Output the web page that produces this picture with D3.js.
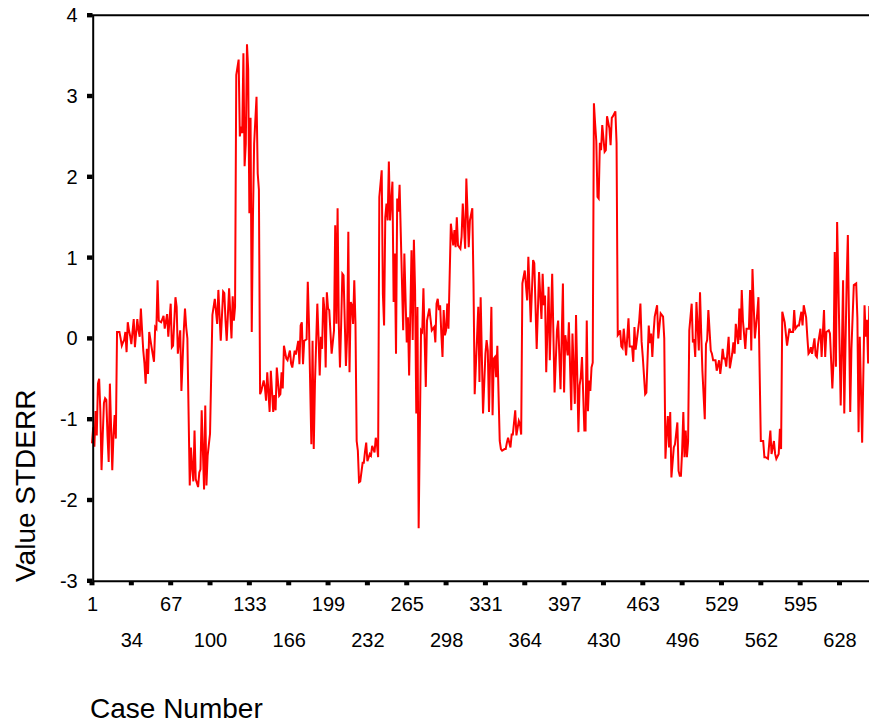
<!DOCTYPE html>
<html>
<head>
<meta charset="utf-8">
<script src="https://cdn.jsdelivr.net/npm/d3@7"></script>
<style>
  body { margin: 0; background: #fff; }
  text { font-family: "Liberation Sans", Arial, sans-serif; fill: #000; }
</style>
</head>
<body>
<script>
// tick labels
var yTicks = [-3, -2, -1, 0, 1, 2, 3, 4];
var xTicks = [1, 34, 67, 100, 133, 166, 199, 232, 265, 298, 331, 364, 397, 430, 463, 496, 529, 562, 595, 628];

// [case number, STDERR value]
var obs = [
  [1,-1.3],[2,-1.1],[3,-1.34],[4,-0.9],[5,-1.2],[6,-0.56],[7,-0.5],[8,-0.9],[9,-1.63],[10,-1.2],
  [11,-0.8],[12,-0.74],[13,-0.76],[14,-1.2],[15,-1.53],[16,-0.56],[17,-1.1],[18,-1.63],[19,-1.2],[20,-0.95],
  [21,-1.24],[22,0.08],[24,0.08],[25,0.0],[26,-0.09],[27,-0.05],[28,-0.02],[29,0.08],[30,-0.17],[31,0.2],
  [32,0.1],[33,0.03],[34,-0.07],[36,0.24],[37,-0.11],[39,0.24],[40,0.1],[41,0.02],[42,0.37],[43,0.1],
  [44,-0.15],[45,-0.31],[46,-0.56],[47,-0.13],[48,-0.44],[49,0.08],[51,-0.11],[52,-0.2],[53,-0.29],[54,0.14],
  [55,0.12],[56,0.72],[57,0.22],[59,0.2],[61,0.28],[62,0.12],[64,0.3],[65,0.02],[67,0.43],[68,-0.11],
  [69,-0.09],[71,0.51],[72,0.39],[73,-0.19],[75,0.1],[76,-0.65],[78,0.1],[79,0.37],[80,0.14],[81,0.0],
  [83,-1.82],[84,-1.35],[85,-1.6],[86,-1.77],[87,-1.14],[88,-1.74],[90,-1.84],[91,-1.66],[92,-1.62],[93,-0.89],
  [95,-1.87],[96,-0.83],[97,-1.82],[98,-1.45],[100,-1.18],[102,0.29],[104,0.49],[106,0.18],[107,0.6],[109,-0.03],
  [111,0.58],[112,0.56],[113,0.22],[114,-0.03],[116,0.62],[118,0.0],[119,0.52],[120,0.22],[121,0.39],[122,3.26],
  [124,3.45],[125,2.5],[126,2.62],[127,2.54],[128,3.53],[129,2.13],[130,2.41],[131,3.64],[132,3.33],[133,1.55],
  [134,2.73],[135,0.08],[136,1.5],[137,2.41],[139,2.99],[140,2.04],[141,1.84],[142,-0.69],[143,-0.65],[145,-0.52],
  [146,-0.6],[147,-0.77],[148,-0.42],[150,-0.91],[151,-0.4],[153,-0.91],[154,-0.7],[155,-0.89],[156,-0.36],[158,-0.71],
  [159,-0.69],[160,-0.42],[161,-0.62],[162,-0.09],[164,-0.25],[165,-0.27],[167,-0.15],[168,-0.31],[169,-0.36],[171,-0.15],
  [172,-0.2],[174,-0.03],[175,-0.32],[176,0.16],[177,0.2],[178,-0.32],[179,-0.03],[181,-0.01],[182,0.7],[183,0.18],
  [185,-1.31],[186,-0.03],[187,-1.37],[188,-0.56],[190,0.43],[191,0.02],[192,-0.46],[193,0.02],[194,-0.13],[195,0.51],
  [196,0.35],[197,-0.36],[198,0.57],[199,0.37],[200,0.35],[202,-0.19],[204,0.1],[205,1.4],[206,0.18],[207,1.61],
  [208,0.18],[209,-0.36],[210,0.18],[211,0.8],[212,0.78],[214,-0.34],[215,0.03],[216,1.32],[217,-0.42],[218,0.45],
  [219,0.41],[220,0.18],[221,0.72],[222,0.18],[223,-1.27],[224,-1.39],[225,-1.78],[226,-1.77],[228,-1.54],[229,-1.54],
  [230,-1.4],[231,-1.29],[232,-1.52],[234,-1.43],[235,-1.45],[236,-1.33],[238,-1.41],[239,-1.23],[240,-1.31],[241,-1.47],
  [242,1.75],[244,2.08],[245,0.55],[246,0.16],[247,1.5],[248,1.67],[249,1.46],[250,2.19],[251,1.46],[253,1.94],
  [254,0.45],[255,1.05],[256,-0.19],[257,1.73],[258,1.57],[259,1.9],[260,1.3],[262,0.1],[263,1.05],[265,-0.05],
  [266,0.26],[267,-0.46],[269,1.09],[270,-0.02],[271,1.22],[272,0.6],[273,-0.93],[274,0.39],[275,-2.35],[277,0.1],
  [278,0.08],[279,0.62],[281,-0.6],[282,0.22],[284,0.37],[286,0.1],[288,0.14],[289,-0.05],[290,0.43],[291,0.49],
  [292,0.35],[293,0.41],[294,0.06],[295,-0.23],[296,0.35],[297,0.04],[298,0.1],[299,0.43],[300,0.12],[302,1.42],
  [304,1.15],[305,1.34],[306,1.13],[307,1.5],[308,1.15],[310,1.11],[311,1.26],[312,1.67],[314,1.11],[315,1.98],
  [317,1.13],[318,1.46],[320,1.61],[321,0.68],[322,-0.69],[324,0.02],[325,0.39],[326,-0.54],[327,0.51],[329,-0.93],
  [331,-0.19],[332,-0.02],[333,-0.15],[334,-0.91],[336,0.39],[337,-0.95],[338,-0.25],[339,-0.23],[340,-0.48],[341,-0.09],
  [343,-1.27],[344,-1.37],[345,-1.39],[347,-1.37],[348,-1.37],[349,-1.29],[350,-1.23],[352,-1.35],[353,-1.19],[354,-1.19],
  [356,-0.89],[357,-1.2],[359,-1.02],[360,-1.06],[361,-1.19],[362,0.68],[364,0.84],[366,0.47],[367,1.01],[369,0.2],
  [371,0.97],[372,0.93],[373,0.41],[374,-0.13],[376,0.82],[378,0.24],[379,0.8],[380,0.41],[381,0.53],[382,-0.42],
  [384,0.64],[385,-0.27],[387,0.8],[389,-0.67],[391,0.1],[392,0.22],[394,-0.63],[396,0.68],[397,-0.67],[398,0.04],
  [400,-0.21],[401,0.2],[403,-0.89],[404,0.06],[406,-0.81],[407,0.29],[409,-1.16],[410,-0.58],[411,-0.48],[412,-0.23],
  [414,-1.14],[415,-1.14],[416,0.22],[417,-0.9],[418,-0.52],[419,-0.65],[420,-0.36],[421,-0.3],[422,2.91],[423,2.66],
  [424,2.44],[425,1.75],[426,1.73],[427,2.42],[428,2.33],[429,2.64],[431,2.31],[432,2.33],[433,2.75],[435,2.6],
  [436,2.39],[437,2.73],[438,2.75],[440,2.81],[441,2.42],[442,0.04],[443,0.06],[444,0.1],[445,-0.1],[446,-0.12],
  [447,0.12],[449,-0.21],[451,0.25],[452,-0.1],[454,-0.1],[455,-0.29],[456,0.14],[457,-0.14],[458,-0.02],[460,0.22],
  [461,0.43],[462,-0.04],[463,-0.23],[465,-0.69],[466,-0.67],[468,0.16],[469,-0.06],[470,0.06],[471,-0.23],[472,0.06],
  [473,0.27],[475,0.41],[476,0.0],[478,0.31],[480,0.27],[481,0.0],[482,-1.49],[483,-1.18],[484,-0.96],[485,-1.35],
  [486,-0.91],[487,-1.72],[489,-1.35],[490,-1.31],[492,-1.04],[493,-1.64],[494,-1.7],[495,-1.7],[496,-1.39],[497,-0.91],
  [498,-1.47],[499,-1.14],[500,-1.47],[501,-1.28],[502,0.1],[504,0.43],[505,-0.05],[506,-0.01],[507,-0.23],[508,0.45],
  [510,-0.15],[511,0.57],[512,0.06],[513,-0.4],[515,-1.0],[516,-0.07],[517,-0.02],[518,0.35],[520,-0.15],[521,-0.19],
  [522,-0.27],[524,-0.27],[525,-0.4],[527,-0.27],[528,-0.44],[529,-0.31],[530,-0.13],[531,-0.25],[532,-0.25],[533,-0.35],
  [535,0.02],[536,-0.37],[538,-0.19],[539,-0.05],[540,-0.19],[541,0.18],[543,-0.07],[544,0.37],[545,-0.02],[546,0.6],
  [547,0.22],[549,-0.13],[550,0.12],[552,0.12],[553,0.6],[554,-0.15],[555,0.86],[557,0.0],[559,0.31],[560,0.51],
  [561,-0.4],[562,-1.27],[564,-1.27],[565,-1.47],[566,-1.47],[568,-1.49],[569,-1.31],[570,-1.14],[571,-1.43],[573,-1.27],
  [574,-1.43],[575,-1.49],[577,-1.43],[578,-1.12],[579,-1.37],[580,0.33],[582,0.2],[584,-0.09],[586,0.12],[587,0.08],
  [589,0.08],[590,0.35],[591,0.12],[593,0.16],[594,0.16],[596,0.33],[597,0.16],[598,0.41],[600,0.26],[601,0.02],
  [602,-0.19],[603,-0.17],[604,-0.11],[605,-0.19],[607,0.0],[608,-0.21],[609,-0.23],[610,-0.07],[612,0.12],[613,-0.23],
  [615,0.35],[616,-0.23],[617,0.08],[619,0.1],[620,0.06],[622,-0.62],[623,-0.27],[624,1.07],[625,-0.35],[626,1.44],
  [627,0.72],[629,-0.83],[630,-0.13],[631,0.72],[632,-0.93],[634,0.7],[635,1.28],[637,-0.91],[638,-0.13],[640,0.66],
  [642,0.68],[643,0.25],[644,-1.16],[645,0.02],[647,-1.29],[649,0.41],[650,0.02],[651,0.23],[652,-0.31],[653,0.4],
  [654,-0.3]
];

var W = 869, H = 723;
var svg = d3.select("body").append("svg").attr("width", W).attr("height", H);

var x = d3.scaleLinear().domain([1, 654]).range([92, 870.5]);
var y = d3.scaleLinear().domain([-3, 4]).range([580.8, 15.2]);

// the series
svg.append("path")
  .datum(obs)
  .attr("fill", "none")
  .attr("stroke", "#ff0000")
  .attr("stroke-width", 2)
  .attr("d", d3.line().x(d => x(d[0])).y(d => y(d[1])));

// frame top line
svg.append("line")
  .attr("x1", 92).attr("x2", W).attr("y1", y(4)).attr("y2", y(4))
  .attr("stroke", "#000").attr("stroke-width", 2);

// left axis (plain hyphen minus, as in the original)
var gy = svg.append("g")
  .attr("transform", "translate(92.7,0)")
  .call(d3.axisLeft(y).tickValues(yTicks).tickSize(0).tickPadding(15).tickFormat(d => String(d)));
gy.select(".domain").attr("stroke", "#000").attr("stroke-width", 2);
gy.selectAll("text").style("font-size", "20px").style("font-family", "Liberation Sans, Arial, sans-serif");
svg.selectAll(".ytick").data(yTicks).join("rect")
  .attr("class", "ytick")
  .attr("x", 87).attr("y", d => y(d) - 2.2)
  .attr("width", 5.5).attr("height", 4.4).attr("fill", "#000");

// bottom axis, labels on two alternating rows
var gx = svg.append("g")
  .attr("transform", "translate(0," + y(-3) + ")")
  .call(d3.axisBottom(x).tickValues(xTicks).tickSize(0).tickPadding(16).tickFormat(d => String(d)));
gx.select(".domain").attr("stroke", "#000").attr("stroke-width", 2);
gx.selectAll("text")
  .style("font-size", "20px").style("font-family", "Liberation Sans, Arial, sans-serif")
  .attr("y", (d, i) => i % 2 ? 52 : 16);
svg.selectAll(".xtick").data(xTicks).join("rect")
  .attr("class", "xtick")
  .attr("x", d => x(d) - 2.5).attr("y", y(-3) + 0.5)
  .attr("width", 5).attr("height", 4).attr("fill", "#000");

// axis titles
svg.append("text")
  .attr("transform", "translate(35,582) rotate(-90)")
  .style("font-size", "28px")
  .text("Value STDERR");
svg.append("text")
  .attr("x", 90).attr("y", 718)
  .style("font-size", "28px")
  .text("Case Number");
</script>
</body>
</html>
